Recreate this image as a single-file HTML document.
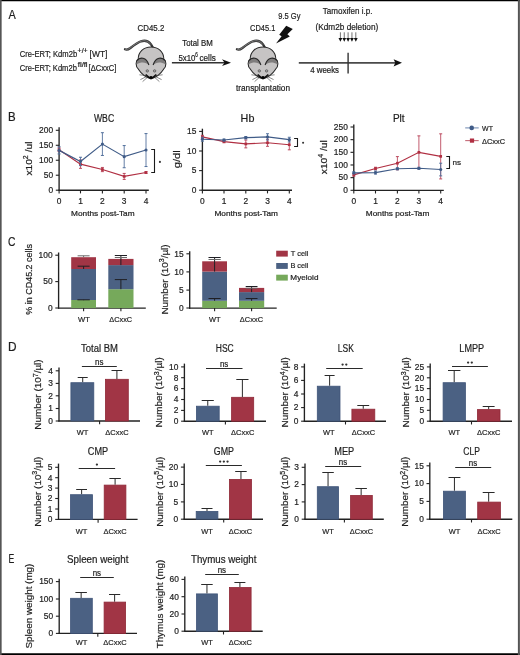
<!DOCTYPE html>
<html><head><meta charset="utf-8"><style>
html,body{margin:0;padding:0;background:#fff;overflow:hidden;}
svg{display:block;will-change:transform;}
text{font-family:"Liberation Sans", sans-serif;stroke:#1e1e1e;stroke-width:0.2px;}
</style></head><body>
<svg width="520" height="655" viewBox="0 0 520 655" font-family='"Liberation Sans", sans-serif' fill="#1e1e1e">
<rect x="0" y="0" width="520" height="655" fill="#fff"/>
<line x1="0.00" y1="0.55" x2="520.00" y2="0.55" stroke="#000" stroke-width="1.2" />
<line x1="0.00" y1="654.20" x2="520.00" y2="654.20" stroke="#000" stroke-width="1.8" />
<line x1="0.80" y1="0.00" x2="0.80" y2="655.00" stroke="#555" stroke-width="1.7" />
<line x1="518.90" y1="0.00" x2="518.90" y2="655.00" stroke="#555" stroke-width="2.0" />
<text x="8.50" y="18.50" font-size="12" textLength="7.27" lengthAdjust="spacingAndGlyphs" ><tspan>A</tspan></text>
<text x="7.98" y="120.80" font-size="12" textLength="7.66" lengthAdjust="spacingAndGlyphs" ><tspan>B</tspan></text>
<text x="7.98" y="245.80" font-size="12" textLength="7.45" lengthAdjust="spacingAndGlyphs" ><tspan>C</tspan></text>
<text x="7.95" y="350.80" font-size="12" textLength="8.55" lengthAdjust="spacingAndGlyphs" ><tspan>D</tspan></text>
<text x="8.40" y="562.80" font-size="12" textLength="5.82" lengthAdjust="spacingAndGlyphs" ><tspan>E</tspan></text>
<text x="19.72" y="56.90" font-size="8.3" textLength="57.46" lengthAdjust="spacingAndGlyphs" ><tspan>Cre-ERT; Kdm2b</tspan></text>
<text x="77.62" y="53.20" font-size="6.3" textLength="9.98" lengthAdjust="spacingAndGlyphs" ><tspan>+/+</tspan></text>
<text x="89.61" y="56.90" font-size="8.3" textLength="17.76" lengthAdjust="spacingAndGlyphs" ><tspan>[WT]</tspan></text>
<text x="19.72" y="70.80" font-size="8.3" textLength="57.15" lengthAdjust="spacingAndGlyphs" ><tspan>Cre-ERT; Kdm2b</tspan></text>
<text x="77.82" y="66.90" font-size="6.3" textLength="9.75" lengthAdjust="spacingAndGlyphs" ><tspan>fl/fl</tspan></text>
<text x="88.57" y="70.80" font-size="8.3" textLength="27.74" lengthAdjust="spacingAndGlyphs" ><tspan>[ΔCxxC]</tspan></text>
<text x="137.61" y="30.80" font-size="8.3" textLength="26.66" lengthAdjust="spacingAndGlyphs" ><tspan>CD45.2</tspan></text>
<text x="182.24" y="46.20" font-size="8.3" textLength="30.53" lengthAdjust="spacingAndGlyphs" ><tspan>Total BM</tspan></text>
<text x="178.49" y="61.00" font-size="8.3" textLength="17.00" lengthAdjust="spacingAndGlyphs" ><tspan>5x10</tspan></text>
<text x="195.37" y="56.50" font-size="6.3" textLength="2.60" lengthAdjust="spacingAndGlyphs" ><tspan>6</tspan></text>
<text x="199.47" y="61.00" font-size="8.3" textLength="16.37" lengthAdjust="spacingAndGlyphs" ><tspan>cells</tspan></text>
<text x="250.03" y="30.60" font-size="8.3" textLength="25.32" lengthAdjust="spacingAndGlyphs" ><tspan>CD45.1</tspan></text>
<text x="278.30" y="18.60" font-size="8.3" textLength="22.10" lengthAdjust="spacingAndGlyphs" ><tspan>9.5 Gy</tspan></text>
<text x="235.92" y="91.30" font-size="8.3" textLength="54.15" lengthAdjust="spacingAndGlyphs" ><tspan>transplantation</tspan></text>
<text x="322.84" y="14.40" font-size="8.3" textLength="49.57" lengthAdjust="spacingAndGlyphs" ><tspan>Tamoxifen i.p.</tspan></text>
<text x="315.51" y="29.50" font-size="8.3" textLength="62.73" lengthAdjust="spacingAndGlyphs" ><tspan>(Kdm2b deletion)</tspan></text>
<text x="310.24" y="73.40" font-size="8.3" textLength="28.79" lengthAdjust="spacingAndGlyphs" ><tspan>4 weeks</tspan></text>
<line x1="171.90" y1="62.70" x2="225.00" y2="62.70" stroke="#333" stroke-width="1.4" />
<path d="M231,62.7 L222,59.3 L224.6,62.7 L222,66.1 Z" fill="#111"/>
<line x1="298.80" y1="62.80" x2="396.00" y2="62.80" stroke="#4a4a4a" stroke-width="1.7" />
<path d="M402,62.8 L393.6,59.2 L395.3,62.8 L393.6,66.4 Z" fill="#111"/>
<line x1="348.10" y1="52.70" x2="348.10" y2="73.50" stroke="#333" stroke-width="1.4" />
<line x1="340.40" y1="32.30" x2="340.40" y2="39.00" stroke="#444" stroke-width="0.75" />
<path d="M338.50,37.9 L342.30,37.9 L340.40,41.8 Z" fill="#111"/>
<line x1="344.25" y1="32.30" x2="344.25" y2="39.00" stroke="#444" stroke-width="0.75" />
<path d="M342.35,37.9 L346.15,37.9 L344.25,41.8 Z" fill="#111"/>
<line x1="348.10" y1="32.30" x2="348.10" y2="39.00" stroke="#444" stroke-width="0.75" />
<path d="M346.20,37.9 L350.00,37.9 L348.10,41.8 Z" fill="#111"/>
<line x1="351.95" y1="32.30" x2="351.95" y2="39.00" stroke="#444" stroke-width="0.75" />
<path d="M350.05,37.9 L353.85,37.9 L351.95,41.8 Z" fill="#111"/>
<line x1="355.80" y1="32.30" x2="355.80" y2="39.00" stroke="#444" stroke-width="0.75" />
<path d="M353.90,37.9 L357.70,37.9 L355.80,41.8 Z" fill="#111"/>
<path d="M286.2,25.8 L292.8,28.9 L287.4,34.3 L289.8,36.4 L276,43.6 L281.6,36.2 L279.2,34.8 Z" fill="#111"/>
<g transform="translate(245,42)">
<path d="M-8,7.3 C-6.5,8 -4.8,7.6 -2.6,6 C0.5,3.6 4,0.9 8,-0.7 C12,-2 15.6,-0.8 18,2.4 L19.6,5" fill="none" stroke="#333" stroke-width="2.3" stroke-linecap="round"/>
<path d="M-7.6,7.3 C-6.5,7.8 -4.8,7.4 -2.6,5.8 C0.5,3.4 4,0.7 8,-0.8 C12,-2 15.4,-0.9 17.8,2.3" fill="none" stroke="#929292" stroke-width="0.75" stroke-linecap="round"/>
<path d="M18,5 C25.5,5 30.8,10 30.8,17 C33.5,18.6 33.7,24.5 30.6,27.2 C28.4,30.6 23.4,35.4 18,36.8 C12.6,35.4 7.6,30.6 5.4,27.2 C2.3,24.5 2.5,18.6 5.2,17 C5.2,10 10.5,5 18,5 Z" fill="#c6c4c4" stroke="#262626" stroke-width="1.05"/>
<path d="M4,18.6 C6.6,14.6 13.2,14.8 15.9,23 C13.2,19.8 7.6,19.6 3.8,22.2 Z" fill="#7f7d7d"/>
<path d="M32,18.6 C29.4,14.6 22.8,14.8 20.1,23 C22.8,19.8 28.4,19.6 32.2,22.2 Z" fill="#7f7d7d"/>
<path d="M4.1,18.6 C6.8,14.7 13.3,15 15.9,23" fill="none" stroke="#262626" stroke-width="1.1"/>
<path d="M31.9,18.6 C29.2,14.7 22.7,15 20.1,23" fill="none" stroke="#262626" stroke-width="1.1"/>
<circle cx="14.3" cy="28.9" r="1.2" fill="#a9a7a7" stroke="#505050" stroke-width="0.75"/>
<circle cx="21.6" cy="28.9" r="1.2" fill="#a9a7a7" stroke="#505050" stroke-width="0.75"/>
<path d="M12.6,32.6 C14.6,34.4 16.3,35.8 18,36.6 C19.7,35.8 21.4,34.4 23.4,32.6" fill="none" stroke="#0d0d0d" stroke-width="1.7"/>
<circle cx="18" cy="35.3" r="1.25" fill="#000"/>
<g stroke="#3c3c3c" stroke-width="0.6" fill="none">
<path d="M13.6,33.6 L6.4,32.8"/><path d="M14,34.3 L7.4,37.6"/><path d="M14.8,35 L9.6,39.6"/>
<path d="M22.4,33.6 L29.6,32.8"/><path d="M22,34.3 L28.6,37.6"/><path d="M21.2,35 L26.4,39.6"/>
</g></g>
<g transform="translate(133,42)">
<path d="M-8,7.3 C-6.5,8 -4.8,7.6 -2.6,6 C0.5,3.6 4,0.9 8,-0.7 C12,-2 15.6,-0.8 18,2.4 L19.6,5" fill="none" stroke="#333" stroke-width="2.3" stroke-linecap="round"/>
<path d="M-7.6,7.3 C-6.5,7.8 -4.8,7.4 -2.6,5.8 C0.5,3.4 4,0.7 8,-0.8 C12,-2 15.4,-0.9 17.8,2.3" fill="none" stroke="#929292" stroke-width="0.75" stroke-linecap="round"/>
<path d="M18,5 C25.5,5 30.8,10 30.8,17 C33.5,18.6 33.7,24.5 30.6,27.2 C28.4,30.6 23.4,35.4 18,36.8 C12.6,35.4 7.6,30.6 5.4,27.2 C2.3,24.5 2.5,18.6 5.2,17 C5.2,10 10.5,5 18,5 Z" fill="#c6c4c4" stroke="#262626" stroke-width="1.05"/>
<path d="M4,18.6 C6.6,14.6 13.2,14.8 15.9,23 C13.2,19.8 7.6,19.6 3.8,22.2 Z" fill="#7f7d7d"/>
<path d="M32,18.6 C29.4,14.6 22.8,14.8 20.1,23 C22.8,19.8 28.4,19.6 32.2,22.2 Z" fill="#7f7d7d"/>
<path d="M4.1,18.6 C6.8,14.7 13.3,15 15.9,23" fill="none" stroke="#262626" stroke-width="1.1"/>
<path d="M31.9,18.6 C29.2,14.7 22.7,15 20.1,23" fill="none" stroke="#262626" stroke-width="1.1"/>
<circle cx="14.3" cy="28.9" r="1.2" fill="#a9a7a7" stroke="#505050" stroke-width="0.75"/>
<circle cx="21.6" cy="28.9" r="1.2" fill="#a9a7a7" stroke="#505050" stroke-width="0.75"/>
<path d="M12.6,32.6 C14.6,34.4 16.3,35.8 18,36.6 C19.7,35.8 21.4,34.4 23.4,32.6" fill="none" stroke="#0d0d0d" stroke-width="1.7"/>
<circle cx="18" cy="35.3" r="1.25" fill="#000"/>
<g stroke="#3c3c3c" stroke-width="0.6" fill="none">
<path d="M13.6,33.6 L6.4,32.8"/><path d="M14,34.3 L7.4,37.6"/><path d="M14.8,35 L9.6,39.6"/>
<path d="M22.4,33.6 L29.6,32.8"/><path d="M22,34.3 L28.6,37.6"/><path d="M21.2,35 L26.4,39.6"/>
</g></g>
<line x1="59.10" y1="127.20" x2="59.10" y2="190.80" stroke="#222" stroke-width="1.35" />
<line x1="55.80" y1="190.20" x2="59.10" y2="190.20" stroke="#222" stroke-width="1.1" />
<text x="53.10" y="193.00" font-size="8.4" text-anchor="end">0</text>
<line x1="55.80" y1="175.22" x2="59.10" y2="175.22" stroke="#222" stroke-width="1.1" />
<text x="53.10" y="178.03" font-size="8.4" text-anchor="end">50</text>
<line x1="55.80" y1="160.25" x2="59.10" y2="160.25" stroke="#222" stroke-width="1.1" />
<text x="53.10" y="163.05" font-size="8.4" text-anchor="end">100</text>
<line x1="55.80" y1="145.28" x2="59.10" y2="145.28" stroke="#222" stroke-width="1.1" />
<text x="53.10" y="148.08" font-size="8.4" text-anchor="end">150</text>
<line x1="55.80" y1="130.30" x2="59.10" y2="130.30" stroke="#222" stroke-width="1.1" />
<text x="53.10" y="133.10" font-size="8.4" text-anchor="end">200</text>
<line x1="58.50" y1="190.20" x2="148.80" y2="190.20" stroke="#222" stroke-width="1.35" />
<line x1="59.10" y1="190.20" x2="59.10" y2="193.40" stroke="#222" stroke-width="1.1" />
<text x="59.10" y="203.70" font-size="8.4" text-anchor="middle">0</text>
<line x1="80.50" y1="190.20" x2="80.50" y2="193.40" stroke="#222" stroke-width="1.1" />
<text x="80.50" y="203.70" font-size="8.4" text-anchor="middle">1</text>
<line x1="102.40" y1="190.20" x2="102.40" y2="193.40" stroke="#222" stroke-width="1.1" />
<text x="102.40" y="203.70" font-size="8.4" text-anchor="middle">2</text>
<line x1="124.20" y1="190.20" x2="124.20" y2="193.40" stroke="#222" stroke-width="1.1" />
<text x="124.20" y="203.70" font-size="8.4" text-anchor="middle">3</text>
<line x1="146.00" y1="190.20" x2="146.00" y2="193.40" stroke="#222" stroke-width="1.1" />
<text x="146.00" y="203.70" font-size="8.4" text-anchor="middle">4</text>
<line x1="59.10" y1="147.97" x2="59.10" y2="151.56" stroke="#bb4a5e" stroke-width="0.9" />
<line x1="57.60" y1="147.97" x2="60.60" y2="147.97" stroke="#bb4a5e" stroke-width="1.0" />
<line x1="57.60" y1="151.56" x2="60.60" y2="151.56" stroke="#bb4a5e" stroke-width="1.0" />
<line x1="80.50" y1="159.95" x2="80.50" y2="168.34" stroke="#bb4a5e" stroke-width="0.9" />
<line x1="79.00" y1="159.95" x2="82.00" y2="159.95" stroke="#bb4a5e" stroke-width="1.0" />
<line x1="79.00" y1="168.34" x2="82.00" y2="168.34" stroke="#bb4a5e" stroke-width="1.0" />
<line x1="102.40" y1="167.44" x2="102.40" y2="171.63" stroke="#bb4a5e" stroke-width="0.9" />
<line x1="100.90" y1="167.44" x2="103.90" y2="167.44" stroke="#bb4a5e" stroke-width="1.0" />
<line x1="100.90" y1="171.63" x2="103.90" y2="171.63" stroke="#bb4a5e" stroke-width="1.0" />
<line x1="124.20" y1="173.43" x2="124.20" y2="179.42" stroke="#bb4a5e" stroke-width="0.9" />
<line x1="122.70" y1="173.43" x2="125.70" y2="173.43" stroke="#bb4a5e" stroke-width="1.0" />
<line x1="122.70" y1="179.42" x2="125.70" y2="179.42" stroke="#bb4a5e" stroke-width="1.0" />
<line x1="146.00" y1="171.63" x2="146.00" y2="173.43" stroke="#bb4a5e" stroke-width="0.9" />
<line x1="144.50" y1="171.63" x2="147.50" y2="171.63" stroke="#bb4a5e" stroke-width="1.0" />
<line x1="144.50" y1="173.43" x2="147.50" y2="173.43" stroke="#bb4a5e" stroke-width="1.0" />
<path d="M59.10,149.77 L80.50,164.14 L102.40,169.53 L124.20,176.42 L146.00,172.53" fill="none" stroke="#b02f42" stroke-width="1.15"/>
<rect x="57.75" y="148.42" width="2.7" height="2.7" fill="#b02f42"/>
<rect x="79.15" y="162.79" width="2.7" height="2.7" fill="#b02f42"/>
<rect x="101.05" y="168.18" width="2.7" height="2.7" fill="#b02f42"/>
<rect x="122.85" y="175.07" width="2.7" height="2.7" fill="#b02f42"/>
<rect x="144.65" y="171.18" width="2.7" height="2.7" fill="#b02f42"/>
<line x1="59.10" y1="146.77" x2="59.10" y2="153.96" stroke="#52709c" stroke-width="0.9" />
<line x1="57.60" y1="146.77" x2="60.60" y2="146.77" stroke="#52709c" stroke-width="1.0" />
<line x1="57.60" y1="153.96" x2="60.60" y2="153.96" stroke="#52709c" stroke-width="1.0" />
<line x1="80.50" y1="157.25" x2="80.50" y2="165.64" stroke="#52709c" stroke-width="0.9" />
<line x1="79.00" y1="157.25" x2="82.00" y2="157.25" stroke="#52709c" stroke-width="1.0" />
<line x1="79.00" y1="165.64" x2="82.00" y2="165.64" stroke="#52709c" stroke-width="1.0" />
<line x1="102.40" y1="132.70" x2="102.40" y2="155.46" stroke="#52709c" stroke-width="0.9" />
<line x1="100.90" y1="132.70" x2="103.90" y2="132.70" stroke="#52709c" stroke-width="1.0" />
<line x1="100.90" y1="155.46" x2="103.90" y2="155.46" stroke="#52709c" stroke-width="1.0" />
<line x1="124.20" y1="145.57" x2="124.20" y2="167.74" stroke="#52709c" stroke-width="0.9" />
<line x1="122.70" y1="145.57" x2="125.70" y2="145.57" stroke="#52709c" stroke-width="1.0" />
<line x1="122.70" y1="167.74" x2="125.70" y2="167.74" stroke="#52709c" stroke-width="1.0" />
<line x1="146.00" y1="133.59" x2="146.00" y2="166.54" stroke="#52709c" stroke-width="0.9" />
<line x1="144.50" y1="133.59" x2="147.50" y2="133.59" stroke="#52709c" stroke-width="1.0" />
<line x1="144.50" y1="166.54" x2="147.50" y2="166.54" stroke="#52709c" stroke-width="1.0" />
<path d="M59.10,150.37 L80.50,161.45 L102.40,144.08 L124.20,156.66 L146.00,150.07" fill="none" stroke="#3f5b87" stroke-width="1.15"/>
<circle cx="59.10" cy="150.37" r="1.55" fill="#3f5b87"/>
<circle cx="80.50" cy="161.45" r="1.55" fill="#3f5b87"/>
<circle cx="102.40" cy="144.08" r="1.55" fill="#3f5b87"/>
<circle cx="124.20" cy="156.66" r="1.55" fill="#3f5b87"/>
<circle cx="146.00" cy="150.07" r="1.55" fill="#3f5b87"/>
<path d="M151.2,149.5 H154.5 V172.5 H151.2" fill="none" stroke="#1a1a1a" stroke-width="1.1"/>
<text x="93.90" y="122.00" font-size="10.2" textLength="20.28" lengthAdjust="spacingAndGlyphs" ><tspan>WBC</tspan></text>
<text transform="translate(32.20,175.50) rotate(-90)" x="-0.10" y="0" font-size="9.8" textLength="34.04" lengthAdjust="spacingAndGlyphs"><tspan>x10</tspan><tspan font-size="6.76" dy="-3.8">2</tspan><tspan dy="3.8"> /ul</tspan></text>
<text x="71.14" y="216.20" font-size="7.3" textLength="63.48" lengthAdjust="spacingAndGlyphs" ><tspan>Months post-Tam</tspan></text>
<circle cx="159.9" cy="161.9" r="1.05" fill="#333"/>
<line x1="202.40" y1="128.70" x2="202.40" y2="190.80" stroke="#222" stroke-width="1.35" />
<line x1="199.10" y1="190.20" x2="202.40" y2="190.20" stroke="#222" stroke-width="1.1" />
<text x="196.40" y="193.00" font-size="8.4" text-anchor="end">0</text>
<line x1="199.10" y1="170.60" x2="202.40" y2="170.60" stroke="#222" stroke-width="1.1" />
<text x="196.40" y="173.40" font-size="8.4" text-anchor="end">5</text>
<line x1="199.10" y1="151.00" x2="202.40" y2="151.00" stroke="#222" stroke-width="1.1" />
<text x="196.40" y="153.80" font-size="8.4" text-anchor="end">10</text>
<line x1="199.10" y1="131.40" x2="202.40" y2="131.40" stroke="#222" stroke-width="1.1" />
<text x="196.40" y="134.20" font-size="8.4" text-anchor="end">15</text>
<line x1="201.80" y1="190.20" x2="292.00" y2="190.20" stroke="#222" stroke-width="1.35" />
<line x1="202.40" y1="190.20" x2="202.40" y2="193.40" stroke="#222" stroke-width="1.1" />
<text x="202.40" y="203.70" font-size="8.4" text-anchor="middle">0</text>
<line x1="224.00" y1="190.20" x2="224.00" y2="193.40" stroke="#222" stroke-width="1.1" />
<text x="224.00" y="203.70" font-size="8.4" text-anchor="middle">1</text>
<line x1="245.80" y1="190.20" x2="245.80" y2="193.40" stroke="#222" stroke-width="1.1" />
<text x="245.80" y="203.70" font-size="8.4" text-anchor="middle">2</text>
<line x1="267.50" y1="190.20" x2="267.50" y2="193.40" stroke="#222" stroke-width="1.1" />
<text x="267.50" y="203.70" font-size="8.4" text-anchor="middle">3</text>
<line x1="289.30" y1="190.20" x2="289.30" y2="193.40" stroke="#222" stroke-width="1.1" />
<text x="289.30" y="203.70" font-size="8.4" text-anchor="middle">4</text>
<line x1="202.40" y1="135.32" x2="202.40" y2="138.46" stroke="#bb4a5e" stroke-width="0.9" />
<line x1="200.90" y1="135.32" x2="203.90" y2="135.32" stroke="#bb4a5e" stroke-width="1.0" />
<line x1="200.90" y1="138.46" x2="203.90" y2="138.46" stroke="#bb4a5e" stroke-width="1.0" />
<line x1="224.00" y1="140.42" x2="224.00" y2="142.77" stroke="#bb4a5e" stroke-width="0.9" />
<line x1="222.50" y1="140.42" x2="225.50" y2="140.42" stroke="#bb4a5e" stroke-width="1.0" />
<line x1="222.50" y1="142.77" x2="225.50" y2="142.77" stroke="#bb4a5e" stroke-width="1.0" />
<line x1="245.80" y1="140.02" x2="245.80" y2="147.86" stroke="#bb4a5e" stroke-width="0.9" />
<line x1="244.30" y1="140.02" x2="247.30" y2="140.02" stroke="#bb4a5e" stroke-width="1.0" />
<line x1="244.30" y1="147.86" x2="247.30" y2="147.86" stroke="#bb4a5e" stroke-width="1.0" />
<line x1="267.50" y1="139.24" x2="267.50" y2="146.30" stroke="#bb4a5e" stroke-width="0.9" />
<line x1="266.00" y1="139.24" x2="269.00" y2="139.24" stroke="#bb4a5e" stroke-width="1.0" />
<line x1="266.00" y1="146.30" x2="269.00" y2="146.30" stroke="#bb4a5e" stroke-width="1.0" />
<line x1="289.30" y1="139.63" x2="289.30" y2="149.82" stroke="#bb4a5e" stroke-width="0.9" />
<line x1="287.80" y1="139.63" x2="290.80" y2="139.63" stroke="#bb4a5e" stroke-width="1.0" />
<line x1="287.80" y1="149.82" x2="290.80" y2="149.82" stroke="#bb4a5e" stroke-width="1.0" />
<path d="M202.40,136.89 L224.00,141.59 L245.80,143.94 L267.50,142.77 L289.30,144.73" fill="none" stroke="#b02f42" stroke-width="1.15"/>
<rect x="201.05" y="135.54" width="2.7" height="2.7" fill="#b02f42"/>
<rect x="222.65" y="140.24" width="2.7" height="2.7" fill="#b02f42"/>
<rect x="244.45" y="142.59" width="2.7" height="2.7" fill="#b02f42"/>
<rect x="266.15" y="141.42" width="2.7" height="2.7" fill="#b02f42"/>
<rect x="287.95" y="143.38" width="2.7" height="2.7" fill="#b02f42"/>
<line x1="202.40" y1="137.28" x2="202.40" y2="141.20" stroke="#52709c" stroke-width="0.9" />
<line x1="200.90" y1="137.28" x2="203.90" y2="137.28" stroke="#52709c" stroke-width="1.0" />
<line x1="200.90" y1="141.20" x2="203.90" y2="141.20" stroke="#52709c" stroke-width="1.0" />
<line x1="224.00" y1="139.04" x2="224.00" y2="141.00" stroke="#52709c" stroke-width="0.9" />
<line x1="222.50" y1="139.04" x2="225.50" y2="139.04" stroke="#52709c" stroke-width="1.0" />
<line x1="222.50" y1="141.00" x2="225.50" y2="141.00" stroke="#52709c" stroke-width="1.0" />
<line x1="245.80" y1="136.50" x2="245.80" y2="138.85" stroke="#52709c" stroke-width="0.9" />
<line x1="244.30" y1="136.50" x2="247.30" y2="136.50" stroke="#52709c" stroke-width="1.0" />
<line x1="244.30" y1="138.85" x2="247.30" y2="138.85" stroke="#52709c" stroke-width="1.0" />
<line x1="267.50" y1="133.75" x2="267.50" y2="140.02" stroke="#52709c" stroke-width="0.9" />
<line x1="266.00" y1="133.75" x2="269.00" y2="133.75" stroke="#52709c" stroke-width="1.0" />
<line x1="266.00" y1="140.02" x2="269.00" y2="140.02" stroke="#52709c" stroke-width="1.0" />
<line x1="289.30" y1="137.28" x2="289.30" y2="141.98" stroke="#52709c" stroke-width="0.9" />
<line x1="287.80" y1="137.28" x2="290.80" y2="137.28" stroke="#52709c" stroke-width="1.0" />
<line x1="287.80" y1="141.98" x2="290.80" y2="141.98" stroke="#52709c" stroke-width="1.0" />
<path d="M202.40,139.24 L224.00,140.02 L245.80,137.67 L267.50,136.89 L289.30,139.63" fill="none" stroke="#3f5b87" stroke-width="1.15"/>
<circle cx="202.40" cy="139.24" r="1.55" fill="#3f5b87"/>
<circle cx="224.00" cy="140.02" r="1.55" fill="#3f5b87"/>
<circle cx="245.80" cy="137.67" r="1.55" fill="#3f5b87"/>
<circle cx="267.50" cy="136.89" r="1.55" fill="#3f5b87"/>
<circle cx="289.30" cy="139.63" r="1.55" fill="#3f5b87"/>
<path d="M294.1,138.5 H297.5 V146.5 H294.1" fill="none" stroke="#1a1a1a" stroke-width="1.1"/>
<text x="240.64" y="122.00" font-size="10.2" textLength="13.75" lengthAdjust="spacingAndGlyphs" ><tspan>Hb</tspan></text>
<text transform="translate(180.00,167.80) rotate(-90)" x="-0.45" y="0" font-size="9.8" textLength="18.04" lengthAdjust="spacingAndGlyphs"><tspan>g/dl</tspan></text>
<text x="214.44" y="216.20" font-size="7.3" textLength="63.48" lengthAdjust="spacingAndGlyphs" ><tspan>Months post-Tam</tspan></text>
<circle cx="303.1" cy="142.7" r="1.05" fill="#333"/>
<line x1="353.80" y1="124.50" x2="353.80" y2="190.90" stroke="#222" stroke-width="1.35" />
<line x1="350.50" y1="190.30" x2="353.80" y2="190.30" stroke="#222" stroke-width="1.1" />
<text x="347.80" y="193.10" font-size="8.4" text-anchor="end">0</text>
<line x1="350.50" y1="177.64" x2="353.80" y2="177.64" stroke="#222" stroke-width="1.1" />
<text x="347.80" y="180.44" font-size="8.4" text-anchor="end">50</text>
<line x1="350.50" y1="164.98" x2="353.80" y2="164.98" stroke="#222" stroke-width="1.1" />
<text x="347.80" y="167.78" font-size="8.4" text-anchor="end">100</text>
<line x1="350.50" y1="152.32" x2="353.80" y2="152.32" stroke="#222" stroke-width="1.1" />
<text x="347.80" y="155.12" font-size="8.4" text-anchor="end">150</text>
<line x1="350.50" y1="139.66" x2="353.80" y2="139.66" stroke="#222" stroke-width="1.1" />
<text x="347.80" y="142.46" font-size="8.4" text-anchor="end">200</text>
<line x1="350.50" y1="127.00" x2="353.80" y2="127.00" stroke="#222" stroke-width="1.1" />
<text x="347.80" y="129.80" font-size="8.4" text-anchor="end">250</text>
<line x1="353.20" y1="190.30" x2="443.80" y2="190.30" stroke="#222" stroke-width="1.35" />
<line x1="353.80" y1="190.30" x2="353.80" y2="193.50" stroke="#222" stroke-width="1.1" />
<text x="353.80" y="203.70" font-size="8.4" text-anchor="middle">0</text>
<line x1="375.50" y1="190.30" x2="375.50" y2="193.50" stroke="#222" stroke-width="1.1" />
<text x="375.50" y="203.70" font-size="8.4" text-anchor="middle">1</text>
<line x1="397.40" y1="190.30" x2="397.40" y2="193.50" stroke="#222" stroke-width="1.1" />
<text x="397.40" y="203.70" font-size="8.4" text-anchor="middle">2</text>
<line x1="418.90" y1="190.30" x2="418.90" y2="193.50" stroke="#222" stroke-width="1.1" />
<text x="418.90" y="203.70" font-size="8.4" text-anchor="middle">3</text>
<line x1="440.70" y1="190.30" x2="440.70" y2="193.50" stroke="#222" stroke-width="1.1" />
<text x="440.70" y="203.70" font-size="8.4" text-anchor="middle">4</text>
<line x1="353.80" y1="173.59" x2="353.80" y2="176.12" stroke="#bb4a5e" stroke-width="0.9" />
<line x1="352.30" y1="173.59" x2="355.30" y2="173.59" stroke="#bb4a5e" stroke-width="1.0" />
<line x1="352.30" y1="176.12" x2="355.30" y2="176.12" stroke="#bb4a5e" stroke-width="1.0" />
<line x1="375.50" y1="167.26" x2="375.50" y2="169.79" stroke="#bb4a5e" stroke-width="0.9" />
<line x1="374.00" y1="167.26" x2="377.00" y2="167.26" stroke="#bb4a5e" stroke-width="1.0" />
<line x1="374.00" y1="169.79" x2="377.00" y2="169.79" stroke="#bb4a5e" stroke-width="1.0" />
<line x1="397.40" y1="156.62" x2="397.40" y2="169.79" stroke="#bb4a5e" stroke-width="0.9" />
<line x1="395.90" y1="156.62" x2="398.90" y2="156.62" stroke="#bb4a5e" stroke-width="1.0" />
<line x1="395.90" y1="169.79" x2="398.90" y2="169.79" stroke="#bb4a5e" stroke-width="1.0" />
<line x1="418.90" y1="135.86" x2="418.90" y2="168.78" stroke="#bb4a5e" stroke-width="0.9" />
<line x1="417.40" y1="135.86" x2="420.40" y2="135.86" stroke="#bb4a5e" stroke-width="1.0" />
<line x1="417.40" y1="168.78" x2="420.40" y2="168.78" stroke="#bb4a5e" stroke-width="1.0" />
<line x1="440.70" y1="133.84" x2="440.70" y2="178.91" stroke="#bb4a5e" stroke-width="0.9" />
<line x1="439.20" y1="133.84" x2="442.20" y2="133.84" stroke="#bb4a5e" stroke-width="1.0" />
<line x1="439.20" y1="178.91" x2="442.20" y2="178.91" stroke="#bb4a5e" stroke-width="1.0" />
<path d="M353.80,174.85 L375.50,168.52 L397.40,163.21 L418.90,152.32 L440.70,156.37" fill="none" stroke="#b02f42" stroke-width="1.15"/>
<rect x="352.45" y="173.50" width="2.7" height="2.7" fill="#b02f42"/>
<rect x="374.15" y="167.17" width="2.7" height="2.7" fill="#b02f42"/>
<rect x="396.05" y="161.86" width="2.7" height="2.7" fill="#b02f42"/>
<rect x="417.55" y="150.97" width="2.7" height="2.7" fill="#b02f42"/>
<rect x="439.35" y="155.02" width="2.7" height="2.7" fill="#b02f42"/>
<line x1="353.80" y1="171.82" x2="353.80" y2="173.84" stroke="#52709c" stroke-width="0.9" />
<line x1="352.30" y1="171.82" x2="355.30" y2="171.82" stroke="#52709c" stroke-width="1.0" />
<line x1="352.30" y1="173.84" x2="355.30" y2="173.84" stroke="#52709c" stroke-width="1.0" />
<line x1="375.50" y1="171.06" x2="375.50" y2="174.10" stroke="#52709c" stroke-width="0.9" />
<line x1="374.00" y1="171.06" x2="377.00" y2="171.06" stroke="#52709c" stroke-width="1.0" />
<line x1="374.00" y1="174.10" x2="377.00" y2="174.10" stroke="#52709c" stroke-width="1.0" />
<line x1="397.40" y1="167.77" x2="397.40" y2="169.79" stroke="#52709c" stroke-width="0.9" />
<line x1="395.90" y1="167.77" x2="398.90" y2="167.77" stroke="#52709c" stroke-width="1.0" />
<line x1="395.90" y1="169.79" x2="398.90" y2="169.79" stroke="#52709c" stroke-width="1.0" />
<line x1="418.90" y1="167.26" x2="418.90" y2="169.28" stroke="#52709c" stroke-width="0.9" />
<line x1="417.40" y1="167.26" x2="420.40" y2="167.26" stroke="#52709c" stroke-width="1.0" />
<line x1="417.40" y1="169.28" x2="420.40" y2="169.28" stroke="#52709c" stroke-width="1.0" />
<line x1="440.70" y1="163.21" x2="440.70" y2="175.87" stroke="#52709c" stroke-width="0.9" />
<line x1="439.20" y1="163.21" x2="442.20" y2="163.21" stroke="#52709c" stroke-width="1.0" />
<line x1="439.20" y1="175.87" x2="442.20" y2="175.87" stroke="#52709c" stroke-width="1.0" />
<path d="M353.80,172.83 L375.50,172.58 L397.40,168.78 L418.90,168.27 L440.70,169.54" fill="none" stroke="#3f5b87" stroke-width="1.15"/>
<circle cx="353.80" cy="172.83" r="1.55" fill="#3f5b87"/>
<circle cx="375.50" cy="172.58" r="1.55" fill="#3f5b87"/>
<circle cx="397.40" cy="168.78" r="1.55" fill="#3f5b87"/>
<circle cx="418.90" cy="168.27" r="1.55" fill="#3f5b87"/>
<circle cx="440.70" cy="169.54" r="1.55" fill="#3f5b87"/>
<path d="M446.3,156.5 H449.5 V168.5 H446.3" fill="none" stroke="#1a1a1a" stroke-width="1.1"/>
<text x="392.90" y="122.00" font-size="10.2" textLength="11.68" lengthAdjust="spacingAndGlyphs" ><tspan>Plt</tspan></text>
<text transform="translate(327.20,174.10) rotate(-90)" x="-0.10" y="0" font-size="9.8" textLength="34.04" lengthAdjust="spacingAndGlyphs"><tspan>x10</tspan><tspan font-size="6.76" dy="-3.8">4</tspan><tspan dy="3.8"> /ul</tspan></text>
<text x="365.84" y="216.20" font-size="7.3" textLength="63.48" lengthAdjust="spacingAndGlyphs" ><tspan>Months post-Tam</tspan></text>
<text x="452.52" y="165.20" font-size="8.0" textLength="8.53" lengthAdjust="spacingAndGlyphs" ><tspan>ns</tspan></text>
<line x1="465.20" y1="127.90" x2="478.70" y2="127.90" stroke="#7890b5" stroke-width="1.1" />
<circle cx="471.7" cy="127.9" r="2.3" fill="#3f5b87"/>
<text x="482.10" y="131.20" font-size="7.7" textLength="10.85" lengthAdjust="spacingAndGlyphs" ><tspan>WT</tspan></text>
<line x1="465.20" y1="140.60" x2="478.70" y2="140.60" stroke="#c46a78" stroke-width="1.1" />
<rect x="469.90" y="138.50" width="4.20" height="4.20" fill="#b02f42" stroke="none" stroke-width="0"/>
<text x="481.95" y="143.80" font-size="7.7" textLength="23.09" lengthAdjust="spacingAndGlyphs" ><tspan>ΔCxxC</tspan></text>
<line x1="58.60" y1="252.50" x2="58.60" y2="308.70" stroke="#222" stroke-width="1.35" />
<line x1="55.30" y1="255.20" x2="58.60" y2="255.20" stroke="#222" stroke-width="1.1" />
<text x="52.60" y="258.00" font-size="8.4" text-anchor="end">100</text>
<line x1="55.30" y1="281.60" x2="58.60" y2="281.60" stroke="#222" stroke-width="1.1" />
<text x="52.60" y="284.40" font-size="8.4" text-anchor="end">50</text>
<line x1="55.30" y1="308.00" x2="58.60" y2="308.00" stroke="#222" stroke-width="1.1" />
<text x="52.60" y="310.80" font-size="8.4" text-anchor="end">0</text>
<line x1="58.00" y1="308.10" x2="145.80" y2="308.10" stroke="#222" stroke-width="1.35" />
<rect x="71.20" y="300.00" width="24.80" height="8.10" fill="#76a95b" stroke="none" stroke-width="0"/>
<rect x="71.20" y="269.00" width="24.80" height="31.00" fill="#4b6183" stroke="none" stroke-width="0"/>
<rect x="71.20" y="257.20" width="24.80" height="11.80" fill="#a13545" stroke="none" stroke-width="0"/>
<line x1="83.60" y1="255.80" x2="83.60" y2="257.20" stroke="#6a6a6a" stroke-width="1.0" />
<line x1="77.60" y1="255.80" x2="89.60" y2="255.80" stroke="#6a6a6a" stroke-width="1.0" />
<line x1="83.60" y1="266.20" x2="83.60" y2="269.00" stroke="#1f1f24" stroke-width="1.0" />
<line x1="77.60" y1="266.20" x2="89.60" y2="266.20" stroke="#1f1f24" stroke-width="1.0" />
<line x1="83.60" y1="299.80" x2="83.60" y2="300.20" stroke="#1f1f24" stroke-width="1.0" />
<line x1="77.40" y1="299.80" x2="89.80" y2="299.80" stroke="#1f1f24" stroke-width="1.0" />
<line x1="83.60" y1="308.10" x2="83.60" y2="311.30" stroke="#222" stroke-width="1.1" />
<rect x="108.30" y="289.20" width="25.20" height="18.90" fill="#76a95b" stroke="none" stroke-width="0"/>
<rect x="108.30" y="265.10" width="25.20" height="24.10" fill="#4b6183" stroke="none" stroke-width="0"/>
<rect x="108.30" y="258.90" width="25.20" height="6.20" fill="#a13545" stroke="none" stroke-width="0"/>
<line x1="120.90" y1="255.50" x2="120.90" y2="265.10" stroke="#1f1f24" stroke-width="1.0" />
<line x1="114.80" y1="255.50" x2="127.00" y2="255.50" stroke="#1f1f24" stroke-width="1.0" />
<line x1="120.90" y1="257.50" x2="120.90" y2="258.90" stroke="#6a6a6a" stroke-width="1.0" />
<line x1="114.80" y1="257.50" x2="127.00" y2="257.50" stroke="#6a6a6a" stroke-width="1.0" />
<line x1="120.90" y1="279.60" x2="120.90" y2="289.20" stroke="#1f1f24" stroke-width="1.0" />
<line x1="114.80" y1="279.60" x2="127.00" y2="279.60" stroke="#1f1f24" stroke-width="1.0" />
<line x1="120.90" y1="308.10" x2="120.90" y2="311.30" stroke="#222" stroke-width="1.1" />
<text x="78.10" y="321.70" font-size="8.0" textLength="11.81" lengthAdjust="spacingAndGlyphs" ><tspan>WT</tspan></text>
<text x="109.25" y="321.70" font-size="8.0" textLength="22.88" lengthAdjust="spacingAndGlyphs" ><tspan>ΔCxxC</tspan></text>
<text transform="translate(32.20,314.40) rotate(-90)" x="-0.27" y="0" font-size="9.3" textLength="70.64" lengthAdjust="spacingAndGlyphs"><tspan>% in CD45.2 cells</tspan></text>
<line x1="189.70" y1="251.20" x2="189.70" y2="308.70" stroke="#222" stroke-width="1.35" />
<line x1="186.40" y1="253.80" x2="189.70" y2="253.80" stroke="#222" stroke-width="1.1" />
<text x="183.70" y="256.60" font-size="8.4" text-anchor="end">15</text>
<line x1="186.40" y1="271.90" x2="189.70" y2="271.90" stroke="#222" stroke-width="1.1" />
<text x="183.70" y="274.70" font-size="8.4" text-anchor="end">10</text>
<line x1="186.40" y1="290.10" x2="189.70" y2="290.10" stroke="#222" stroke-width="1.1" />
<text x="183.70" y="292.90" font-size="8.4" text-anchor="end">5</text>
<line x1="186.40" y1="308.00" x2="189.70" y2="308.00" stroke="#222" stroke-width="1.1" />
<text x="183.70" y="310.80" font-size="8.4" text-anchor="end">0</text>
<line x1="189.10" y1="308.10" x2="276.70" y2="308.10" stroke="#222" stroke-width="1.35" />
<rect x="202.20" y="300.80" width="24.80" height="7.30" fill="#76a95b" stroke="none" stroke-width="0"/>
<rect x="202.20" y="271.60" width="24.80" height="29.20" fill="#4b6183" stroke="none" stroke-width="0"/>
<rect x="202.20" y="261.30" width="24.80" height="10.30" fill="#a13545" stroke="none" stroke-width="0"/>
<line x1="214.60" y1="257.50" x2="214.60" y2="271.60" stroke="#1f1f24" stroke-width="1.0" />
<line x1="208.50" y1="257.50" x2="220.70" y2="257.50" stroke="#1f1f24" stroke-width="1.0" />
<line x1="214.60" y1="259.50" x2="214.60" y2="259.50" stroke="#6a6a6a" stroke-width="1.0" />
<line x1="208.50" y1="259.50" x2="220.70" y2="259.50" stroke="#6a6a6a" stroke-width="1.0" />
<line x1="214.60" y1="298.50" x2="214.60" y2="300.80" stroke="#1f1f24" stroke-width="1.0" />
<line x1="208.50" y1="298.50" x2="220.70" y2="298.50" stroke="#1f1f24" stroke-width="1.0" />
<line x1="214.60" y1="308.10" x2="214.60" y2="311.30" stroke="#222" stroke-width="1.1" />
<rect x="239.00" y="300.80" width="25.20" height="7.30" fill="#76a95b" stroke="none" stroke-width="0"/>
<rect x="239.00" y="292.10" width="25.20" height="8.70" fill="#4b6183" stroke="none" stroke-width="0"/>
<rect x="239.00" y="287.90" width="25.20" height="4.20" fill="#a13545" stroke="none" stroke-width="0"/>
<line x1="251.60" y1="286.50" x2="251.60" y2="292.10" stroke="#1f1f24" stroke-width="1.0" />
<line x1="245.70" y1="286.50" x2="257.50" y2="286.50" stroke="#1f1f24" stroke-width="1.0" />
<line x1="251.60" y1="288.20" x2="251.60" y2="288.20" stroke="#6a6a6a" stroke-width="1.0" />
<line x1="245.70" y1="288.20" x2="257.50" y2="288.20" stroke="#6a6a6a" stroke-width="1.0" />
<line x1="251.60" y1="298.50" x2="251.60" y2="300.80" stroke="#1f1f24" stroke-width="1.0" />
<line x1="245.70" y1="298.50" x2="257.50" y2="298.50" stroke="#1f1f24" stroke-width="1.0" />
<line x1="251.60" y1="308.10" x2="251.60" y2="311.30" stroke="#222" stroke-width="1.1" />
<text x="208.90" y="321.50" font-size="8.0" textLength="11.55" lengthAdjust="spacingAndGlyphs" ><tspan>WT</tspan></text>
<text x="239.85" y="321.50" font-size="8.0" textLength="23.19" lengthAdjust="spacingAndGlyphs" ><tspan>ΔCxxC</tspan></text>
<text transform="translate(167.80,313.80) rotate(-90)" x="-0.79" y="0" font-size="9.3" textLength="70.22" lengthAdjust="spacingAndGlyphs"><tspan>Number (10</tspan><tspan font-size="6.60" dy="-3.6">3</tspan><tspan dy="3.6">/µl)</tspan></text>
<rect x="276.20" y="250.70" width="11.60" height="5.90" fill="#a13545" stroke="none" stroke-width="0"/>
<text x="290.85" y="255.80" font-size="7.6" textLength="17.50" lengthAdjust="spacingAndGlyphs" ><tspan>T cell</tspan></text>
<rect x="276.20" y="263.00" width="11.60" height="5.90" fill="#4b6183" stroke="none" stroke-width="0"/>
<text x="290.41" y="267.50" font-size="7.6" textLength="17.94" lengthAdjust="spacingAndGlyphs" ><tspan>B cell</tspan></text>
<rect x="276.20" y="274.70" width="11.60" height="5.90" fill="#76a95b" stroke="none" stroke-width="0"/>
<text x="290.35" y="279.70" font-size="7.6" textLength="28.11" lengthAdjust="spacingAndGlyphs" ><tspan>Myeloid</tspan></text>
<line x1="59.00" y1="367.40" x2="59.00" y2="421.60" stroke="#222" stroke-width="1.35" />
<line x1="55.70" y1="370.80" x2="59.00" y2="370.80" stroke="#222" stroke-width="1.1" />
<text x="53.00" y="373.60" font-size="8.4" text-anchor="end">4</text>
<line x1="55.70" y1="383.40" x2="59.00" y2="383.40" stroke="#222" stroke-width="1.1" />
<text x="53.00" y="386.20" font-size="8.4" text-anchor="end">3</text>
<line x1="55.70" y1="395.80" x2="59.00" y2="395.80" stroke="#222" stroke-width="1.1" />
<text x="53.00" y="398.60" font-size="8.4" text-anchor="end">2</text>
<line x1="55.70" y1="408.50" x2="59.00" y2="408.50" stroke="#222" stroke-width="1.1" />
<text x="53.00" y="411.30" font-size="8.4" text-anchor="end">1</text>
<line x1="55.70" y1="421.00" x2="59.00" y2="421.00" stroke="#222" stroke-width="1.1" />
<text x="53.00" y="423.80" font-size="8.4" text-anchor="end">0</text>
<line x1="58.40" y1="421.00" x2="140.00" y2="421.00" stroke="#222" stroke-width="1.35" />
<line x1="99.60" y1="421.00" x2="99.60" y2="424.30" stroke="#222" stroke-width="1.1" />
<line x1="82.70" y1="382.30" x2="82.70" y2="377.50" stroke="#333" stroke-width="1.05" />
<line x1="77.70" y1="377.50" x2="87.70" y2="377.50" stroke="#2a2a2a" stroke-width="1.0" />
<rect x="70.90" y="382.70" width="22.90" height="38.30" fill="#4b6183" stroke="#3f5479" stroke-width="0.8"/>
<line x1="116.90" y1="378.90" x2="116.90" y2="370.50" stroke="#333" stroke-width="1.05" />
<line x1="111.50" y1="370.50" x2="122.30" y2="370.50" stroke="#2a2a2a" stroke-width="1.0" />
<rect x="105.40" y="379.30" width="22.90" height="41.70" fill="#a13545" stroke="#8f2838" stroke-width="0.8"/>
<line x1="81.90" y1="366.50" x2="116.80" y2="366.50" stroke="#2a2a2a" stroke-width="1.0" />
<text x="95.02" y="364.80" font-size="8.2" textLength="8.42" lengthAdjust="spacingAndGlyphs" ><tspan>ns</tspan></text>
<text x="81.11" y="351.50" font-size="10" textLength="36.88" lengthAdjust="spacingAndGlyphs" ><tspan>Total BM</tspan></text>
<text transform="translate(41.20,428.90) rotate(-90)" x="-0.79" y="0" font-size="9.2" textLength="70.32" lengthAdjust="spacingAndGlyphs"><tspan>Number (10</tspan><tspan font-size="6.53" dy="-3.6">7</tspan><tspan dy="3.6">/µl)</tspan></text>
<text x="76.65" y="434.75" font-size="8.0" textLength="11.55" lengthAdjust="spacingAndGlyphs" ><tspan>WT</tspan></text>
<text x="105.25" y="434.75" font-size="8.0" textLength="23.29" lengthAdjust="spacingAndGlyphs" ><tspan>ΔCxxC</tspan></text>
<line x1="184.40" y1="363.60" x2="184.40" y2="421.80" stroke="#222" stroke-width="1.35" />
<line x1="181.10" y1="366.90" x2="184.40" y2="366.90" stroke="#222" stroke-width="1.1" />
<text x="178.40" y="369.70" font-size="8.4" text-anchor="end">10</text>
<line x1="181.10" y1="377.70" x2="184.40" y2="377.70" stroke="#222" stroke-width="1.1" />
<text x="178.40" y="380.50" font-size="8.4" text-anchor="end">8</text>
<line x1="181.10" y1="388.60" x2="184.40" y2="388.60" stroke="#222" stroke-width="1.1" />
<text x="178.40" y="391.40" font-size="8.4" text-anchor="end">6</text>
<line x1="181.10" y1="399.50" x2="184.40" y2="399.50" stroke="#222" stroke-width="1.1" />
<text x="178.40" y="402.30" font-size="8.4" text-anchor="end">4</text>
<line x1="181.10" y1="410.40" x2="184.40" y2="410.40" stroke="#222" stroke-width="1.1" />
<text x="178.40" y="413.20" font-size="8.4" text-anchor="end">2</text>
<line x1="181.10" y1="421.20" x2="184.40" y2="421.20" stroke="#222" stroke-width="1.1" />
<text x="178.40" y="424.00" font-size="8.4" text-anchor="end">0</text>
<line x1="183.80" y1="421.20" x2="266.00" y2="421.20" stroke="#222" stroke-width="1.35" />
<line x1="225.40" y1="421.20" x2="225.40" y2="424.50" stroke="#222" stroke-width="1.1" />
<line x1="207.75" y1="405.80" x2="207.75" y2="400.50" stroke="#333" stroke-width="1.05" />
<line x1="201.70" y1="400.50" x2="213.80" y2="400.50" stroke="#2a2a2a" stroke-width="1.0" />
<rect x="196.40" y="406.20" width="22.80" height="15.00" fill="#4b6183" stroke="#3f5479" stroke-width="0.8"/>
<line x1="242.40" y1="396.90" x2="242.40" y2="379.50" stroke="#333" stroke-width="1.05" />
<line x1="236.30" y1="379.50" x2="248.50" y2="379.50" stroke="#2a2a2a" stroke-width="1.0" />
<rect x="231.60" y="397.30" width="22.10" height="23.90" fill="#a13545" stroke="#8f2838" stroke-width="0.8"/>
<line x1="206.00" y1="368.50" x2="242.50" y2="368.50" stroke="#2a2a2a" stroke-width="1.0" />
<text x="219.92" y="366.80" font-size="8.2" textLength="8.42" lengthAdjust="spacingAndGlyphs" ><tspan>ns</tspan></text>
<text x="215.82" y="351.80" font-size="10" textLength="17.95" lengthAdjust="spacingAndGlyphs" ><tspan>HSC</tspan></text>
<text transform="translate(162.30,426.60) rotate(-90)" x="-0.79" y="0" font-size="9.2" textLength="70.12" lengthAdjust="spacingAndGlyphs"><tspan>Number (10</tspan><tspan font-size="6.53" dy="-3.6">3</tspan><tspan dy="3.6">/µl)</tspan></text>
<text x="202.10" y="434.75" font-size="8.0" textLength="11.55" lengthAdjust="spacingAndGlyphs" ><tspan>WT</tspan></text>
<text x="231.05" y="434.75" font-size="8.0" textLength="23.29" lengthAdjust="spacingAndGlyphs" ><tspan>ΔCxxC</tspan></text>
<line x1="304.40" y1="363.60" x2="304.40" y2="421.80" stroke="#222" stroke-width="1.35" />
<line x1="301.10" y1="366.90" x2="304.40" y2="366.90" stroke="#222" stroke-width="1.1" />
<text x="298.40" y="369.70" font-size="8.4" text-anchor="end">8</text>
<line x1="301.10" y1="380.40" x2="304.40" y2="380.40" stroke="#222" stroke-width="1.1" />
<text x="298.40" y="383.20" font-size="8.4" text-anchor="end">6</text>
<line x1="301.10" y1="394.00" x2="304.40" y2="394.00" stroke="#222" stroke-width="1.1" />
<text x="298.40" y="396.80" font-size="8.4" text-anchor="end">4</text>
<line x1="301.10" y1="407.60" x2="304.40" y2="407.60" stroke="#222" stroke-width="1.1" />
<text x="298.40" y="410.40" font-size="8.4" text-anchor="end">2</text>
<line x1="301.10" y1="421.20" x2="304.40" y2="421.20" stroke="#222" stroke-width="1.1" />
<text x="298.40" y="424.00" font-size="8.4" text-anchor="end">0</text>
<line x1="303.80" y1="421.20" x2="386.00" y2="421.20" stroke="#222" stroke-width="1.35" />
<line x1="345.50" y1="421.20" x2="345.50" y2="424.50" stroke="#222" stroke-width="1.1" />
<line x1="329.60" y1="385.80" x2="329.60" y2="375.50" stroke="#333" stroke-width="1.05" />
<line x1="324.60" y1="375.50" x2="334.60" y2="375.50" stroke="#2a2a2a" stroke-width="1.0" />
<rect x="317.30" y="386.20" width="22.70" height="35.00" fill="#4b6183" stroke="#3f5479" stroke-width="0.8"/>
<line x1="363.25" y1="408.80" x2="363.25" y2="405.50" stroke="#333" stroke-width="1.05" />
<line x1="357.30" y1="405.50" x2="369.20" y2="405.50" stroke="#2a2a2a" stroke-width="1.0" />
<rect x="351.90" y="409.20" width="22.90" height="12.00" fill="#a13545" stroke="#8f2838" stroke-width="0.8"/>
<line x1="326.20" y1="368.50" x2="362.70" y2="368.50" stroke="#2a2a2a" stroke-width="1.0" />
<circle cx="342.60" cy="364.60" r="1.15" fill="#333"/>
<circle cx="346.30" cy="364.60" r="1.15" fill="#333"/>
<text x="337.82" y="351.80" font-size="10" textLength="16.04" lengthAdjust="spacingAndGlyphs" ><tspan>LSK</tspan></text>
<text transform="translate(288.20,426.60) rotate(-90)" x="-0.79" y="0" font-size="9.2" textLength="70.12" lengthAdjust="spacingAndGlyphs"><tspan>Number (10</tspan><tspan font-size="6.53" dy="-3.6">4</tspan><tspan dy="3.6">/µl)</tspan></text>
<text x="322.95" y="434.75" font-size="8.0" textLength="11.55" lengthAdjust="spacingAndGlyphs" ><tspan>WT</tspan></text>
<text x="351.75" y="434.75" font-size="8.0" textLength="23.29" lengthAdjust="spacingAndGlyphs" ><tspan>ΔCxxC</tspan></text>
<line x1="430.20" y1="363.60" x2="430.20" y2="421.80" stroke="#222" stroke-width="1.35" />
<line x1="426.90" y1="366.90" x2="430.20" y2="366.90" stroke="#222" stroke-width="1.1" />
<text x="424.20" y="369.70" font-size="8.4" text-anchor="end">25</text>
<line x1="426.90" y1="377.80" x2="430.20" y2="377.80" stroke="#222" stroke-width="1.1" />
<text x="424.20" y="380.60" font-size="8.4" text-anchor="end">20</text>
<line x1="426.90" y1="388.60" x2="430.20" y2="388.60" stroke="#222" stroke-width="1.1" />
<text x="424.20" y="391.40" font-size="8.4" text-anchor="end">15</text>
<line x1="426.90" y1="399.50" x2="430.20" y2="399.50" stroke="#222" stroke-width="1.1" />
<text x="424.20" y="402.30" font-size="8.4" text-anchor="end">10</text>
<line x1="426.90" y1="410.30" x2="430.20" y2="410.30" stroke="#222" stroke-width="1.1" />
<text x="424.20" y="413.10" font-size="8.4" text-anchor="end">5</text>
<line x1="426.90" y1="421.20" x2="430.20" y2="421.20" stroke="#222" stroke-width="1.1" />
<text x="424.20" y="424.00" font-size="8.4" text-anchor="end">0</text>
<line x1="429.60" y1="421.20" x2="512.00" y2="421.20" stroke="#222" stroke-width="1.35" />
<line x1="471.50" y1="421.20" x2="471.50" y2="424.50" stroke="#222" stroke-width="1.1" />
<line x1="454.20" y1="382.30" x2="454.20" y2="370.50" stroke="#333" stroke-width="1.05" />
<line x1="448.00" y1="370.50" x2="460.40" y2="370.50" stroke="#2a2a2a" stroke-width="1.0" />
<rect x="443.10" y="382.70" width="22.30" height="38.50" fill="#4b6183" stroke="#3f5479" stroke-width="0.8"/>
<line x1="488.65" y1="409.20" x2="488.65" y2="406.50" stroke="#333" stroke-width="1.05" />
<line x1="482.70" y1="406.50" x2="494.60" y2="406.50" stroke="#2a2a2a" stroke-width="1.0" />
<rect x="477.40" y="409.60" width="22.60" height="11.60" fill="#a13545" stroke="#8f2838" stroke-width="0.8"/>
<line x1="452.00" y1="366.50" x2="487.90" y2="366.50" stroke="#2a2a2a" stroke-width="1.0" />
<circle cx="468.10" cy="362.60" r="1.15" fill="#333"/>
<circle cx="471.80" cy="362.60" r="1.15" fill="#333"/>
<text x="459.37" y="351.50" font-size="10" textLength="24.75" lengthAdjust="spacingAndGlyphs" ><tspan>LMPP</tspan></text>
<text transform="translate(409.30,426.60) rotate(-90)" x="-0.79" y="0" font-size="9.2" textLength="70.12" lengthAdjust="spacingAndGlyphs"><tspan>Number (10</tspan><tspan font-size="6.53" dy="-3.6">3</tspan><tspan dy="3.6">/µl)</tspan></text>
<text x="448.55" y="434.75" font-size="8.0" textLength="11.55" lengthAdjust="spacingAndGlyphs" ><tspan>WT</tspan></text>
<text x="477.10" y="434.75" font-size="8.0" textLength="23.29" lengthAdjust="spacingAndGlyphs" ><tspan>ΔCxxC</tspan></text>
<line x1="58.50" y1="463.60" x2="58.50" y2="520.00" stroke="#222" stroke-width="1.35" />
<line x1="55.20" y1="467.30" x2="58.50" y2="467.30" stroke="#222" stroke-width="1.1" />
<text x="52.50" y="470.10" font-size="8.4" text-anchor="end">5</text>
<line x1="55.20" y1="477.70" x2="58.50" y2="477.70" stroke="#222" stroke-width="1.1" />
<text x="52.50" y="480.50" font-size="8.4" text-anchor="end">4</text>
<line x1="55.20" y1="488.10" x2="58.50" y2="488.10" stroke="#222" stroke-width="1.1" />
<text x="52.50" y="490.90" font-size="8.4" text-anchor="end">3</text>
<line x1="55.20" y1="498.50" x2="58.50" y2="498.50" stroke="#222" stroke-width="1.1" />
<text x="52.50" y="501.30" font-size="8.4" text-anchor="end">2</text>
<line x1="55.20" y1="509.00" x2="58.50" y2="509.00" stroke="#222" stroke-width="1.1" />
<text x="52.50" y="511.80" font-size="8.4" text-anchor="end">1</text>
<line x1="55.20" y1="519.40" x2="58.50" y2="519.40" stroke="#222" stroke-width="1.1" />
<text x="52.50" y="522.20" font-size="8.4" text-anchor="end">0</text>
<line x1="57.90" y1="519.40" x2="137.60" y2="519.40" stroke="#222" stroke-width="1.35" />
<line x1="98.10" y1="519.40" x2="98.10" y2="522.70" stroke="#222" stroke-width="1.1" />
<line x1="81.60" y1="494.30" x2="81.60" y2="489.50" stroke="#333" stroke-width="1.05" />
<line x1="76.20" y1="489.50" x2="87.00" y2="489.50" stroke="#2a2a2a" stroke-width="1.0" />
<rect x="70.50" y="494.70" width="22.00" height="24.70" fill="#4b6183" stroke="#3f5479" stroke-width="0.8"/>
<line x1="115.10" y1="484.70" x2="115.10" y2="478.50" stroke="#333" stroke-width="1.05" />
<line x1="109.40" y1="478.50" x2="120.80" y2="478.50" stroke="#2a2a2a" stroke-width="1.0" />
<rect x="104.20" y="485.10" width="21.70" height="34.30" fill="#a13545" stroke="#8f2838" stroke-width="0.8"/>
<line x1="78.70" y1="468.50" x2="115.10" y2="468.50" stroke="#2a2a2a" stroke-width="1.0" />
<circle cx="96.90" cy="464.60" r="1.15" fill="#333"/>
<text x="87.84" y="455.00" font-size="10" textLength="20.29" lengthAdjust="spacingAndGlyphs" ><tspan>CMP</tspan></text>
<text transform="translate(40.60,526.00) rotate(-90)" x="-0.79" y="0" font-size="9.2" textLength="70.01" lengthAdjust="spacingAndGlyphs"><tspan>Number (10</tspan><tspan font-size="6.53" dy="-3.6">3</tspan><tspan dy="3.6">/µl)</tspan></text>
<text x="75.80" y="533.50" font-size="8.0" textLength="11.55" lengthAdjust="spacingAndGlyphs" ><tspan>WT</tspan></text>
<text x="103.45" y="533.50" font-size="8.0" textLength="23.29" lengthAdjust="spacingAndGlyphs" ><tspan>ΔCxxC</tspan></text>
<line x1="184.20" y1="463.60" x2="184.20" y2="519.80" stroke="#222" stroke-width="1.35" />
<line x1="180.90" y1="467.10" x2="184.20" y2="467.10" stroke="#222" stroke-width="1.1" />
<text x="178.20" y="469.90" font-size="8.4" text-anchor="end">20</text>
<line x1="180.90" y1="484.40" x2="184.20" y2="484.40" stroke="#222" stroke-width="1.1" />
<text x="178.20" y="487.20" font-size="8.4" text-anchor="end">10</text>
<line x1="180.90" y1="501.90" x2="184.20" y2="501.90" stroke="#222" stroke-width="1.1" />
<text x="178.20" y="504.70" font-size="8.4" text-anchor="end">5</text>
<line x1="180.90" y1="519.20" x2="184.20" y2="519.20" stroke="#222" stroke-width="1.1" />
<text x="178.20" y="522.00" font-size="8.4" text-anchor="end">0</text>
<line x1="183.60" y1="519.20" x2="263.00" y2="519.20" stroke="#222" stroke-width="1.35" />
<line x1="223.70" y1="519.20" x2="223.70" y2="522.50" stroke="#222" stroke-width="1.1" />
<line x1="207.00" y1="511.00" x2="207.00" y2="508.50" stroke="#333" stroke-width="1.05" />
<line x1="201.50" y1="508.50" x2="212.50" y2="508.50" stroke="#2a2a2a" stroke-width="1.0" />
<rect x="196.20" y="511.40" width="21.70" height="7.80" fill="#4b6183" stroke="#3f5479" stroke-width="0.8"/>
<line x1="240.95" y1="479.00" x2="240.95" y2="471.50" stroke="#333" stroke-width="1.05" />
<line x1="235.20" y1="471.50" x2="246.70" y2="471.50" stroke="#2a2a2a" stroke-width="1.0" />
<rect x="229.40" y="479.40" width="22.10" height="39.80" fill="#a13545" stroke="#8f2838" stroke-width="0.8"/>
<line x1="205.80" y1="465.50" x2="241.90" y2="465.50" stroke="#2a2a2a" stroke-width="1.0" />
<circle cx="220.15" cy="461.60" r="1.15" fill="#333"/>
<circle cx="223.85" cy="461.60" r="1.15" fill="#333"/>
<circle cx="227.55" cy="461.60" r="1.15" fill="#333"/>
<text x="213.76" y="455.00" font-size="10" textLength="20.16" lengthAdjust="spacingAndGlyphs" ><tspan>GMP</tspan></text>
<text transform="translate(162.60,526.00) rotate(-90)" x="-0.79" y="0" font-size="9.2" textLength="70.01" lengthAdjust="spacingAndGlyphs"><tspan>Number (10</tspan><tspan font-size="6.53" dy="-3.6">5</tspan><tspan dy="3.6">/µl)</tspan></text>
<text x="201.35" y="533.50" font-size="8.0" textLength="11.55" lengthAdjust="spacingAndGlyphs" ><tspan>WT</tspan></text>
<text x="228.85" y="533.50" font-size="8.0" textLength="23.29" lengthAdjust="spacingAndGlyphs" ><tspan>ΔCxxC</tspan></text>
<line x1="305.00" y1="463.60" x2="305.00" y2="519.80" stroke="#222" stroke-width="1.35" />
<line x1="301.70" y1="467.30" x2="305.00" y2="467.30" stroke="#222" stroke-width="1.1" />
<text x="299.00" y="470.10" font-size="8.4" text-anchor="end">3</text>
<line x1="301.70" y1="484.60" x2="305.00" y2="484.60" stroke="#222" stroke-width="1.1" />
<text x="299.00" y="487.40" font-size="8.4" text-anchor="end">2</text>
<line x1="301.70" y1="501.90" x2="305.00" y2="501.90" stroke="#222" stroke-width="1.1" />
<text x="299.00" y="504.70" font-size="8.4" text-anchor="end">1</text>
<line x1="301.70" y1="519.20" x2="305.00" y2="519.20" stroke="#222" stroke-width="1.1" />
<text x="299.00" y="522.00" font-size="8.4" text-anchor="end">0</text>
<line x1="304.40" y1="519.20" x2="383.80" y2="519.20" stroke="#222" stroke-width="1.35" />
<line x1="344.40" y1="519.20" x2="344.40" y2="522.50" stroke="#222" stroke-width="1.1" />
<line x1="328.05" y1="486.30" x2="328.05" y2="472.50" stroke="#333" stroke-width="1.05" />
<line x1="322.30" y1="472.50" x2="333.80" y2="472.50" stroke="#2a2a2a" stroke-width="1.0" />
<rect x="317.30" y="486.70" width="21.30" height="32.50" fill="#4b6183" stroke="#3f5479" stroke-width="0.8"/>
<line x1="361.15" y1="495.00" x2="361.15" y2="488.50" stroke="#333" stroke-width="1.05" />
<line x1="355.40" y1="488.50" x2="366.90" y2="488.50" stroke="#2a2a2a" stroke-width="1.0" />
<rect x="350.60" y="495.40" width="21.70" height="23.80" fill="#a13545" stroke="#8f2838" stroke-width="0.8"/>
<line x1="325.20" y1="466.50" x2="361.20" y2="466.50" stroke="#2a2a2a" stroke-width="1.0" />
<text x="338.87" y="464.80" font-size="8.2" textLength="8.42" lengthAdjust="spacingAndGlyphs" ><tspan>ns</tspan></text>
<text x="334.26" y="455.00" font-size="10" textLength="19.97" lengthAdjust="spacingAndGlyphs" ><tspan>MEP</tspan></text>
<text transform="translate(288.30,526.00) rotate(-90)" x="-0.79" y="0" font-size="9.2" textLength="70.01" lengthAdjust="spacingAndGlyphs"><tspan>Number (10</tspan><tspan font-size="6.53" dy="-3.6">5</tspan><tspan dy="3.6">/µl)</tspan></text>
<text x="322.25" y="533.50" font-size="8.0" textLength="11.55" lengthAdjust="spacingAndGlyphs" ><tspan>WT</tspan></text>
<text x="349.85" y="533.50" font-size="8.0" textLength="23.29" lengthAdjust="spacingAndGlyphs" ><tspan>ΔCxxC</tspan></text>
<line x1="429.80" y1="462.50" x2="429.80" y2="519.80" stroke="#222" stroke-width="1.35" />
<line x1="426.50" y1="465.80" x2="429.80" y2="465.80" stroke="#222" stroke-width="1.1" />
<text x="423.80" y="468.60" font-size="8.4" text-anchor="end">15</text>
<line x1="426.50" y1="483.60" x2="429.80" y2="483.60" stroke="#222" stroke-width="1.1" />
<text x="423.80" y="486.40" font-size="8.4" text-anchor="end">10</text>
<line x1="426.50" y1="501.40" x2="429.80" y2="501.40" stroke="#222" stroke-width="1.1" />
<text x="423.80" y="504.20" font-size="8.4" text-anchor="end">5</text>
<line x1="426.50" y1="519.20" x2="429.80" y2="519.20" stroke="#222" stroke-width="1.1" />
<text x="423.80" y="522.00" font-size="8.4" text-anchor="end">0</text>
<line x1="429.20" y1="519.20" x2="512.30" y2="519.20" stroke="#222" stroke-width="1.35" />
<line x1="471.50" y1="519.20" x2="471.50" y2="522.50" stroke="#222" stroke-width="1.1" />
<line x1="454.45" y1="490.80" x2="454.45" y2="477.50" stroke="#333" stroke-width="1.05" />
<line x1="448.50" y1="477.50" x2="460.40" y2="477.50" stroke="#2a2a2a" stroke-width="1.0" />
<rect x="443.40" y="491.20" width="22.00" height="28.00" fill="#4b6183" stroke="#3f5479" stroke-width="0.8"/>
<line x1="488.65" y1="501.70" x2="488.65" y2="492.50" stroke="#333" stroke-width="1.05" />
<line x1="482.70" y1="492.50" x2="494.60" y2="492.50" stroke="#2a2a2a" stroke-width="1.0" />
<rect x="477.70" y="502.10" width="22.70" height="17.10" fill="#a13545" stroke="#8f2838" stroke-width="0.8"/>
<line x1="455.20" y1="467.50" x2="491.20" y2="467.50" stroke="#2a2a2a" stroke-width="1.0" />
<text x="468.87" y="465.80" font-size="8.2" textLength="8.42" lengthAdjust="spacingAndGlyphs" ><tspan>ns</tspan></text>
<text x="463.37" y="455.00" font-size="10" textLength="16.63" lengthAdjust="spacingAndGlyphs" ><tspan>CLP</tspan></text>
<text transform="translate(408.30,526.00) rotate(-90)" x="-0.79" y="0" font-size="9.2" textLength="70.01" lengthAdjust="spacingAndGlyphs"><tspan>Number (10</tspan><tspan font-size="6.53" dy="-3.6">2</tspan><tspan dy="3.6">/µl)</tspan></text>
<text x="448.70" y="533.50" font-size="8.0" textLength="11.55" lengthAdjust="spacingAndGlyphs" ><tspan>WT</tspan></text>
<text x="477.45" y="533.50" font-size="8.0" textLength="23.29" lengthAdjust="spacingAndGlyphs" ><tspan>ΔCxxC</tspan></text>
<line x1="59.20" y1="578.70" x2="59.20" y2="634.00" stroke="#222" stroke-width="1.35" />
<line x1="55.90" y1="581.60" x2="59.20" y2="581.60" stroke="#222" stroke-width="1.1" />
<text x="53.20" y="584.40" font-size="8.4" text-anchor="end">150</text>
<line x1="55.90" y1="599.00" x2="59.20" y2="599.00" stroke="#222" stroke-width="1.1" />
<text x="53.20" y="601.80" font-size="8.4" text-anchor="end">100</text>
<line x1="55.90" y1="616.20" x2="59.20" y2="616.20" stroke="#222" stroke-width="1.1" />
<text x="53.20" y="619.00" font-size="8.4" text-anchor="end">50</text>
<line x1="55.90" y1="633.40" x2="59.20" y2="633.40" stroke="#222" stroke-width="1.1" />
<text x="53.20" y="636.20" font-size="8.4" text-anchor="end">0</text>
<line x1="58.60" y1="633.40" x2="137.00" y2="633.40" stroke="#222" stroke-width="1.35" />
<line x1="97.80" y1="633.40" x2="97.80" y2="636.70" stroke="#222" stroke-width="1.1" />
<line x1="81.15" y1="597.90" x2="81.15" y2="592.50" stroke="#333" stroke-width="1.05" />
<line x1="75.40" y1="592.50" x2="86.90" y2="592.50" stroke="#2a2a2a" stroke-width="1.0" />
<rect x="70.60" y="598.30" width="21.70" height="35.10" fill="#4b6183" stroke="#3f5479" stroke-width="0.8"/>
<line x1="114.60" y1="601.70" x2="114.60" y2="594.50" stroke="#333" stroke-width="1.05" />
<line x1="109.00" y1="594.50" x2="120.20" y2="594.50" stroke="#2a2a2a" stroke-width="1.0" />
<rect x="104.10" y="602.10" width="21.50" height="31.30" fill="#a13545" stroke="#8f2838" stroke-width="0.8"/>
<line x1="80.20" y1="577.50" x2="113.80" y2="577.50" stroke="#2a2a2a" stroke-width="1.0" />
<text x="92.67" y="575.80" font-size="8.2" textLength="8.42" lengthAdjust="spacingAndGlyphs" ><tspan>ns</tspan></text>
<text x="67.01" y="563.10" font-size="10.1" textLength="61.47" lengthAdjust="spacingAndGlyphs" ><tspan>Spleen weight</tspan></text>
<text transform="translate(31.50,648.10) rotate(-90)" x="-0.39" y="0" font-size="9.2" textLength="84.82" lengthAdjust="spacingAndGlyphs"><tspan>Spleen weight (mg)</tspan></text>
<text x="75.75" y="645.10" font-size="8.0" textLength="11.55" lengthAdjust="spacingAndGlyphs" ><tspan>WT</tspan></text>
<text x="103.25" y="645.10" font-size="8.0" textLength="23.29" lengthAdjust="spacingAndGlyphs" ><tspan>ΔCxxC</tspan></text>
<line x1="184.80" y1="576.40" x2="184.80" y2="631.80" stroke="#222" stroke-width="1.35" />
<line x1="181.50" y1="579.40" x2="184.80" y2="579.40" stroke="#222" stroke-width="1.1" />
<text x="178.80" y="582.20" font-size="8.4" text-anchor="end">60</text>
<line x1="181.50" y1="596.70" x2="184.80" y2="596.70" stroke="#222" stroke-width="1.1" />
<text x="178.80" y="599.50" font-size="8.4" text-anchor="end">40</text>
<line x1="181.50" y1="614.00" x2="184.80" y2="614.00" stroke="#222" stroke-width="1.1" />
<text x="178.80" y="616.80" font-size="8.4" text-anchor="end">20</text>
<line x1="181.50" y1="631.20" x2="184.80" y2="631.20" stroke="#222" stroke-width="1.1" />
<text x="178.80" y="634.00" font-size="8.4" text-anchor="end">0</text>
<line x1="184.20" y1="631.20" x2="262.70" y2="631.20" stroke="#222" stroke-width="1.35" />
<line x1="223.50" y1="631.20" x2="223.50" y2="634.50" stroke="#222" stroke-width="1.1" />
<line x1="206.95" y1="593.50" x2="206.95" y2="584.50" stroke="#333" stroke-width="1.05" />
<line x1="201.20" y1="584.50" x2="212.70" y2="584.50" stroke="#2a2a2a" stroke-width="1.0" />
<rect x="196.50" y="593.90" width="20.90" height="37.30" fill="#4b6183" stroke="#3f5479" stroke-width="0.8"/>
<line x1="239.90" y1="587.10" x2="239.90" y2="582.50" stroke="#333" stroke-width="1.05" />
<line x1="234.40" y1="582.50" x2="245.40" y2="582.50" stroke="#2a2a2a" stroke-width="1.0" />
<rect x="229.40" y="587.50" width="21.70" height="43.70" fill="#a13545" stroke="#8f2838" stroke-width="0.8"/>
<line x1="205.20" y1="574.50" x2="238.80" y2="574.50" stroke="#2a2a2a" stroke-width="1.0" />
<text x="217.67" y="572.80" font-size="8.2" textLength="8.42" lengthAdjust="spacingAndGlyphs" ><tspan>ns</tspan></text>
<text x="191.01" y="563.10" font-size="10.1" textLength="65.47" lengthAdjust="spacingAndGlyphs" ><tspan>Thymus weight</tspan></text>
<text transform="translate(162.60,648.10) rotate(-90)" x="-0.20" y="0" font-size="9.2" textLength="88.51" lengthAdjust="spacingAndGlyphs"><tspan>Thymus weight (mg)</tspan></text>
<text x="201.25" y="645.10" font-size="8.0" textLength="11.55" lengthAdjust="spacingAndGlyphs" ><tspan>WT</tspan></text>
<text x="228.65" y="645.10" font-size="8.0" textLength="23.29" lengthAdjust="spacingAndGlyphs" ><tspan>ΔCxxC</tspan></text>
</svg>
</body></html>
